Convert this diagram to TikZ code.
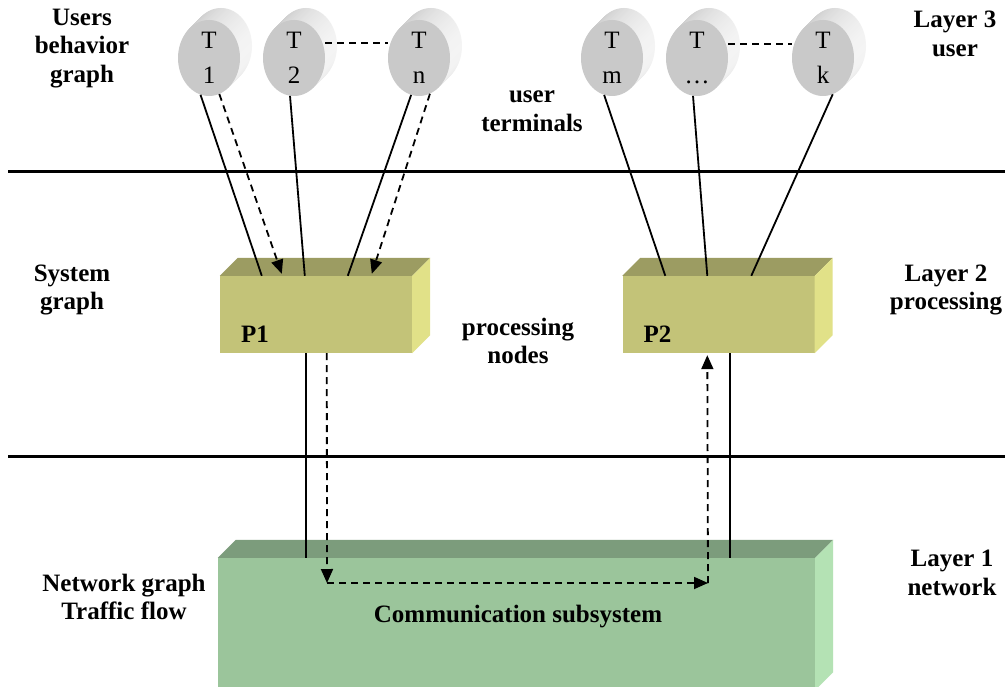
\documentclass[tikz,border=0pt]{standalone}
\usepackage{fontspec}
\setmainfont{Liberation Serif}
\usetikzlibrary{shapes.geometric,arrows.meta,calc}

\definecolor{procfront}{HTML}{C3C378}
\definecolor{proctop}{HTML}{9C9C62}
\definecolor{procside}{HTML}{E1E188}
\definecolor{netfront}{HTML}{9BC59B}
\definecolor{nettop}{HTML}{7C9C7C}
\definecolor{netside}{HTML}{B4E2B4}
\definecolor{termfront}{HTML}{C9C9C9}

\tikzset{
  lbl/.style={font=\bfseries\fontsize{25}{28.5}\selectfont, align=center, inner sep=0pt},
  termnode/.style={ellipse, fill=termfront, minimum width=62pt, minimum height=76pt,
    inner sep=0pt, align=center, font=\fontsize{25}{35}\selectfont},
  procbox/.style={rectangle, fill=procfront, minimum width=192pt, minimum height=77pt, inner sep=0pt},
  netbox/.style={rectangle, fill=netfront, minimum width=597pt, minimum height=132pt, inner sep=0pt},
  link/.style={line width=1.8pt},
  flow/.style={line width=1.8pt, dash pattern=on 7pt off 5pt, -{Triangle[length=14pt,width=12pt]}},
  sep/.style={line width=3pt},
}

% cylinder-shaped user terminal: body first, then the front face as a named node
\newcommand{\terminal}[4]{%
  \foreach \k in {12,11,...,1}{
    \shade[left color=gray!45, right color=white!92!gray]
      (#2+\k*1.0, #3-\k*1.0) ellipse [x radius=31, y radius=38];
  }
  \node[termnode] (#1) at (#2,#3) {#4};
}

\begin{document}
\begin{tikzpicture}[x=1pt, y=-1pt]
\clip (0,0) rectangle (1007,687);
\fill[white] (0,0) rectangle (1007,687);

% layer separators
\draw[sep] (8,172) -- (1005,172);
\draw[sep] (8,456) -- (1005,456);

% user terminals
\terminal{t1}{209}{58}{T\\1}
\terminal{t2}{294}{58}{T\\2}
\terminal{tn}{419}{58}{T\\n}
\terminal{tm}{612}{58}{T\\m}
\terminal{tdots}{697}{58}{T\\\ldots}
\terminal{tk}{823}{58}{T\\k}

\draw[link, dash pattern=on 7pt off 5pt] (t2.east |- 0,43) -- (tn.west |- 0,43);
\draw[link, dash pattern=on 7pt off 5pt] (tdots.east |- 0,44) -- (tk.west |- 0,44);

% processing nodes (3D boxes)
\node[procbox] (p1) at (316,314.5) {};
\node[procbox] (p2) at (718.5,314.5) {};
\foreach \p in {p1,p2}{
  \fill[proctop] (\p.north west) -- ++(18,-18) -- ($(\p.north east)+(18,-18)$) -- (\p.north east) -- cycle;
  \fill[procside] (\p.north east) -- ++(18,-18) -- ($(\p.south east)+(18,-18)$) -- (\p.south east) -- cycle;
}
\node[lbl, anchor=west] (p1lbl) at ($(p1.south west)+(21,-19)$) {P1};
\node[lbl, anchor=west] (p2lbl) at ($(p2.south west)+(21,-19)$) {P2};

% communication subsystem
\node[netbox] (net) at (516.5,624) {};
\fill[nettop] (net.north west) -- ++(18,-18) -- ($(net.north east)+(18,-18)$) -- (net.north east) -- cycle;
\fill[netside] (net.north east) -- ++(18,-18) -- ($(net.south east)+(18,-18)$) -- (net.south east) -- cycle;
\node[lbl] (netlbl) at (518,617) {Communication subsystem};

% terminals to P1
\draw[link] (t1.257) -- ($(p1.north west)+(42,0)$);
\draw[flow] (t1.286) -- ($(p1.north west)+(62,-2)$);
\draw[link] (t2.264) -- ($(p1.north west)+(85,0)$);
\draw[link] (tn.258) -- ($(p1.north west)+(128,0)$);
\draw[flow] (tn.287) -- ($(p1.north west)+(152,-2)$);

% terminals to P2
\draw[link] (tm.258) -- ($(p2.north west)+(43,0)$);
\draw[link] (tdots.264) -- ($(p2.north west)+(85,0)$);
\draw[link] (tk.285) -- ($(p2.north west)+(129,0)$);

% P1 / P2 to the communication subsystem
\coordinate (p1out) at ($(p1.south west)+(86,0)$);
\coordinate (p2in)  at ($(p2.south west)+(108,0)$);
\coordinate (p1flow) at ($(p1.south west)+(107,0)$);
\coordinate (p2flow) at ($(p2.south west)+(85,2)$);
\coordinate (turnA) at (327,583);
\coordinate (turnB) at (708,583);
\draw[link] (p1out) -- (p1out |- net.north);
\draw[link] (p2in) -- (p2in |- net.north);
\draw[flow] (p1flow) -- (turnA);
\draw[flow] (turnA) -- (turnB);
\draw[flow] (turnB) -- (p2flow);

% layer captions
\node[lbl] (cap3l) at (82,48.5) {Users\\behavior\\graph};
\node[lbl] (cap3m) at (532,111) {user\\terminals};
\node[lbl] (cap3r) at (955,34) {Layer 3\\user};
\node[lbl] (cap2l) at (72,290) {System\\graph};
\node[lbl] (cap2m) at (518,341) {processing\\nodes};
\node[lbl] (cap2r) at (946,290) {Layer 2\\processing};
\node[lbl] (cap1l) at (124,597) {Network graph\\Traffic flow};
\node[lbl] (cap1r) at (952,573) {Layer 1\\network};
\end{tikzpicture}
\end{document}
